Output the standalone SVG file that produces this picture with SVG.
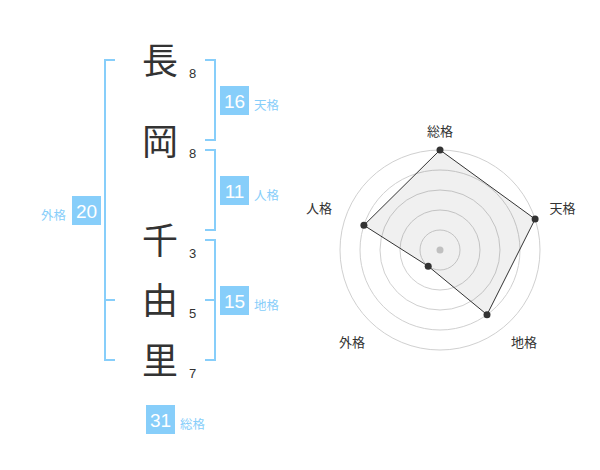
<svg xmlns="http://www.w3.org/2000/svg" width="600" height="470" viewBox="0 0 600 470">
<style>
.kanji{font-family:"Noto Sans CJK JP","Noto Sans CJK SC",sans-serif;font-size:36px;fill:#333;text-anchor:middle}
.num{font-family:"Liberation Sans",Arial,sans-serif;font-size:13px;fill:#333}
.br{fill:none;stroke:#87cefa;stroke-width:2}
.box{fill:#87cefa}
.bnum{font-family:"Liberation Sans",Arial,sans-serif;font-size:19px;fill:#fff;text-anchor:middle}
.blab{font-family:"Noto Sans CJK JP","Noto Sans CJK SC",sans-serif;font-size:12.5px;fill:#87cefa}
.ring{fill:none;stroke:#d0d0d0;stroke-width:1}
.rlab{font-family:"Noto Sans CJK JP","Noto Sans CJK SC",sans-serif;font-size:13px;fill:#333;text-anchor:middle}
.dot{fill:#333}
</style>
<rect width="600" height="470" fill="#fff"/>
<g id="name-chars">
<g id="c1"><text class="kanji" x="160" y="73.5">長</text><text class="num" x="189" y="77.5">8</text></g>
<g id="c2"><text class="kanji" x="160" y="154.5">岡</text><text class="num" x="189" y="157.5">8</text></g>
<g id="c3"><text class="kanji" x="160" y="254">千</text><text class="num" x="189" y="257.5">3</text></g>
<g id="c4"><text class="kanji" x="160" y="313.5">由</text><text class="num" x="189" y="317.5">5</text></g>
<g id="c5"><text class="kanji" x="160" y="373.5">里</text><text class="num" x="189" y="377.5">7</text></g>
</g>
<g id="connectors">
<path class="br" d="M205,60 H215 V140 H205"/>
<path class="br" d="M205,150 H215 V230 H205"/>
<path class="br" d="M205,240 H215 V360 H205 M205,300 H215"/>
<path class="br" d="M115,60 H105 V360 H115 M105,300 H115"/>
</g>
<g id="tenkaku"><rect class="box" x="220" y="86" width="29" height="29"/><text class="bnum" x="234.5" y="107.5">16</text><text class="blab" x="254" y="109.5">天格</text></g>
<g id="jinkaku"><rect class="box" x="220" y="176" width="29" height="29"/><text class="bnum" x="234.5" y="197.5">11</text><text class="blab" x="254" y="199.5">人格</text></g>
<g id="chikaku"><rect class="box" x="220" y="286" width="29" height="29"/><text class="bnum" x="234.5" y="307.5">15</text><text class="blab" x="254" y="309.5">地格</text></g>
<g id="gaikaku"><rect class="box" x="72" y="196" width="29" height="29"/><text class="bnum" x="86.5" y="217.5">20</text><text class="blab" x="66" y="219.5" text-anchor="end">外格</text></g>
<g id="soukaku"><rect class="box" x="146" y="405" width="29" height="29"/><text class="bnum" x="160.5" y="426.5">31</text><text class="blab" x="180" y="428.5">総格</text></g>
<g id="radar">
<circle class="ring" cx="440" cy="250" r="20"/>
<circle class="ring" cx="440" cy="250" r="40"/>
<circle class="ring" cx="440" cy="250" r="60"/>
<circle class="ring" cx="440" cy="250" r="80"/>
<circle class="ring" cx="440" cy="250" r="100"/>
<circle cx="440" cy="250" r="3.5" fill="#ccc"/>
<polygon points="440,150 535.1,219.1 487,314.7 428.2,266.2 363.9,225.3" fill="#000" fill-opacity="0.06" stroke="#333" stroke-width="1"/>
<circle class="dot" cx="440" cy="150" r="3.5"/>
<circle class="dot" cx="535.1" cy="219.1" r="3.5"/>
<circle class="dot" cx="487" cy="314.7" r="3.5"/>
<circle class="dot" cx="428.2" cy="266.2" r="3.5"/>
<circle class="dot" cx="363.9" cy="225.3" r="3.5"/>
<text class="rlab" x="440" y="136">総格</text>
<text class="rlab" x="562.5" y="213">天格</text>
<text class="rlab" x="524" y="347">地格</text>
<text class="rlab" x="352" y="347">外格</text>
<text class="rlab" x="319" y="213">人格</text>
</g>
</svg>
